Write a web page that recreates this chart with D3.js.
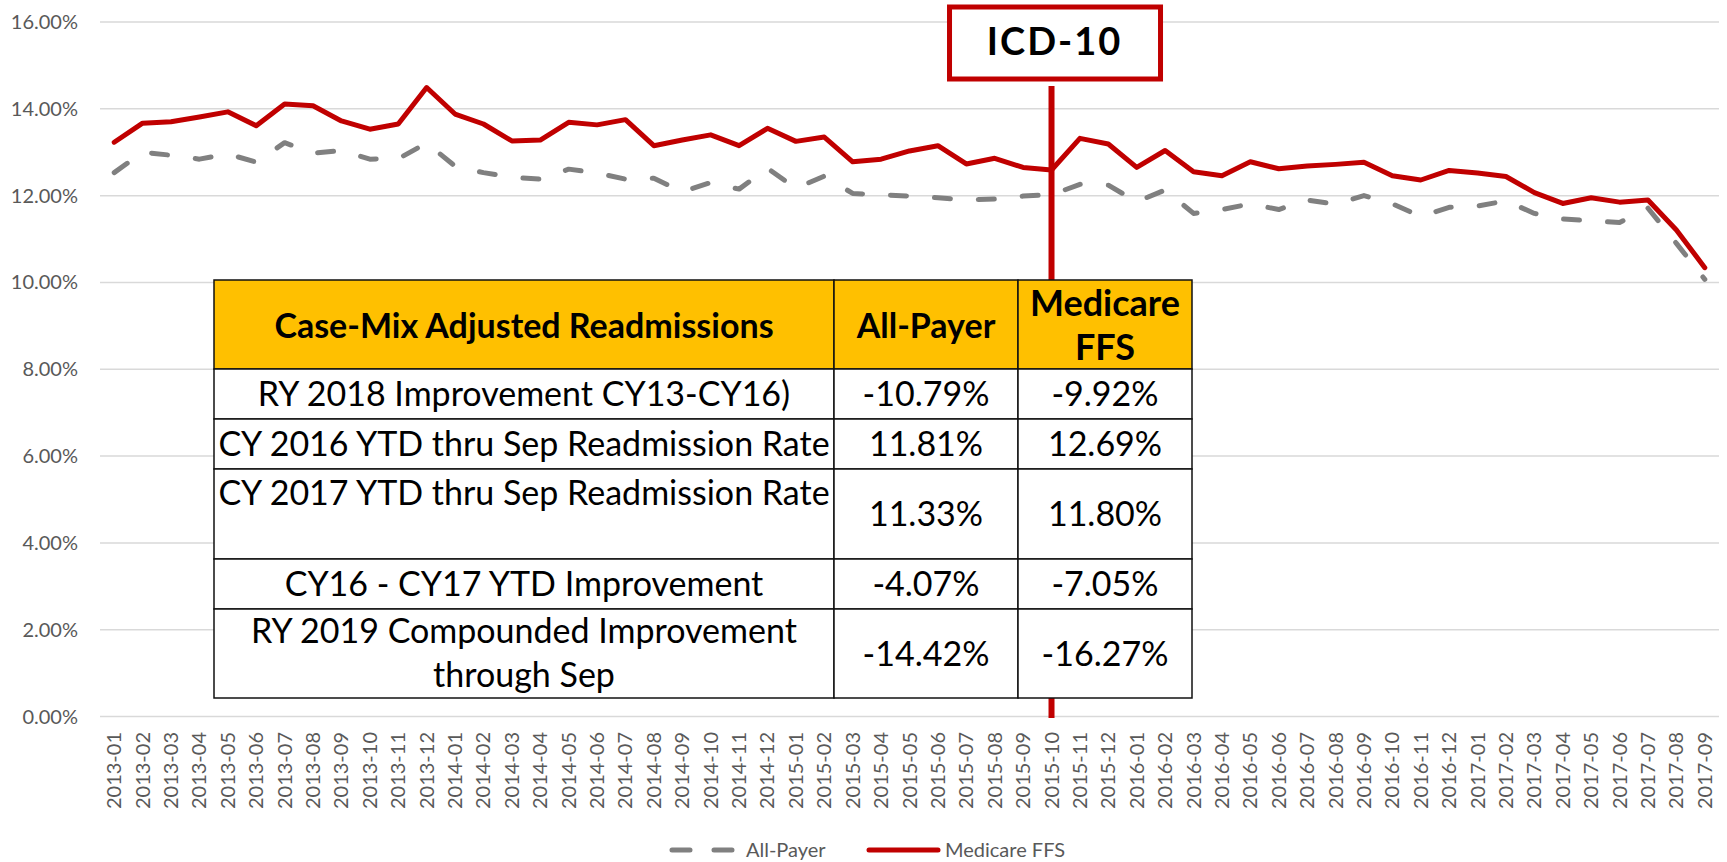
<!DOCTYPE html>
<html>
<head>
<meta charset="utf-8">
<script src="https://cdn.jsdelivr.net/npm/d3@7"></script>
<style>
  body { margin: 0; background: #fff; }
  svg { display: block; }
</style>
</head>
<body>
<div id="chart"></div>
<script>
// month categories on the x axis
const months = [
  "2013-01","2013-02","2013-03","2013-04","2013-05","2013-06","2013-07","2013-08","2013-09","2013-10","2013-11","2013-12",
  "2014-01","2014-02","2014-03","2014-04","2014-05","2014-06","2014-07","2014-08","2014-09","2014-10","2014-11","2014-12",
  "2015-01","2015-02","2015-03","2015-04","2015-05","2015-06","2015-07","2015-08","2015-09","2015-10","2015-11","2015-12",
  "2016-01","2016-02","2016-03","2016-04","2016-05","2016-06","2016-07","2016-08","2016-09","2016-10","2016-11","2016-12",
  "2017-01","2017-02","2017-03","2017-04","2017-05","2017-06","2017-07","2017-08","2017-09"
];

// readmission rates (%)
const allPayer = [
  12.53, 13.00, 12.93, 12.84, 12.96, 12.77, 13.22, 12.98, 13.04, 12.84, 12.85, 13.21,
  12.68, 12.53, 12.42, 12.38, 12.61, 12.52, 12.38, 12.40, 12.09, 12.30, 12.15, 12.63,
  12.17, 12.45, 12.05, 12.02, 11.99, 11.95, 11.90, 11.92, 11.99, 12.02, 12.26, 12.24,
  11.86, 12.13, 11.59, 11.68, 11.81, 11.68, 11.90, 11.80, 12.00, 11.81, 11.52, 11.73,
  11.76, 11.88, 11.59, 11.46, 11.42, 11.38, 11.71, 10.90, 10.07
];
const medicareFFS = [
  13.23, 13.67, 13.70, 13.81, 13.93, 13.61, 14.11, 14.07, 13.72, 13.53, 13.65, 14.49,
  13.88, 13.65, 13.26, 13.28, 13.69, 13.63, 13.75, 13.15, 13.28, 13.40, 13.15, 13.55,
  13.25, 13.35, 12.78, 12.84, 13.03, 13.15, 12.73, 12.86, 12.65, 12.59, 13.32, 13.19,
  12.65, 13.04, 12.55, 12.46, 12.78, 12.62, 12.68, 12.72, 12.77, 12.46, 12.36, 12.58,
  12.52, 12.44, 12.07, 11.82, 11.95, 11.85, 11.90, 11.21, 10.34
];

const yTicks = [0, 2, 4, 6, 8, 10, 12, 14, 16];

const markerMonth = "2015-10";
const markerLabel = "ICD-10";

// summary table
const tableHeader = ["Case-Mix Adjusted Readmissions", "All-Payer", "Medicare\nFFS"];
const rowLabels = [
  "RY 2018 Improvement CY13-CY16)",
  "CY 2016 YTD thru Sep Readmission Rate",
  "CY 2017 YTD thru Sep Readmission Rate",
  "CY16 - CY17 YTD Improvement",
  "RY 2019 Compounded Improvement\nthrough Sep"
];
const allPayerCol = ["-10.79%", "11.81%", "11.33%", "-4.07%", "-14.42%"];
const medicareCol = ["-9.92%", "12.69%", "11.80%", "-7.05%", "-16.27%"];

const width = 1727;
const height = 862;
const red = "#c00000";
const grey = "#808080";
const axisFont = "Lato, 'Open Sans', sans-serif";
const tableFont = "Lato, 'Liberation Sans', sans-serif";

const svg = d3.select("#chart").append("svg")
    .attr("width", width)
    .attr("height", height)
    .attr("viewBox", [0, 0, width, height]);

const x = d3.scaleBand().domain(months).range([100, 1719]);
const y = d3.scaleLinear().domain([0, 16]).range([716.5, 22]);
const cx = m => x(m) + x.bandwidth() / 2;

// gridlines
svg.append("g")
  .selectAll("line")
  .data(yTicks)
  .join("line")
    .attr("x1", 100)
    .attr("x2", 1719)
    .attr("y1", d => y(d))
    .attr("y2", d => y(d))
    .attr("stroke", "#d9d9d9")
    .attr("stroke-width", 1.5);

// y labels
svg.append("g")
  .selectAll("text")
  .data(yTicks)
  .join("text")
    .attr("x", 78)
    .attr("y", d => y(d))
    .attr("dy", "0.35em")
    .attr("text-anchor", "end")
    .attr("fill", "#595959")
    .style("font", `20px ${axisFont}`)
    .text(d => d.toFixed(2) + "%");

// x labels, rotated
svg.append("g")
  .selectAll("text")
  .data(months)
  .join("text")
    .attr("transform", d => `translate(${cx(d)},732) rotate(-90)`)
    .attr("dy", "0.35em")
    .attr("text-anchor", "end")
    .attr("fill", "#595959")
    .style("font", `20px ${axisFont}`)
    .text(d => d);

// lines
const line = d3.line()
    .x((d, i) => cx(months[i]))
    .y(d => y(d));

svg.append("path")
    .attr("fill", "none")
    .attr("stroke", grey)
    .attr("stroke-width", 5)
    .attr("stroke-dasharray", "16,28")
    .attr("stroke-linecap", "round")
    .attr("stroke-linejoin", "round")
    .attr("d", line(allPayer));

svg.append("path")
    .attr("fill", "none")
    .attr("stroke", red)
    .attr("stroke-width", 5)
    .attr("stroke-linecap", "round")
    .attr("stroke-linejoin", "round")
    .attr("d", line(medicareFFS));

// ICD-10 marker
const mx = cx(markerMonth);
svg.append("line")
    .attr("x1", mx).attr("x2", mx)
    .attr("y1", 86).attr("y2", 718)
    .attr("stroke", red)
    .attr("stroke-width", 6);

svg.append("rect")
    .attr("x", mx - 102)
    .attr("y", 7)
    .attr("width", 211)
    .attr("height", 72)
    .attr("fill", "#fff")
    .attr("stroke", red)
    .attr("stroke-width", 5);

svg.append("text")
    .attr("x", mx + 3)
    .attr("y", 55)
    .attr("text-anchor", "middle")
    .attr("fill", "#000")
    .style("font", `bold 38px ${axisFont}`)
    .style("letter-spacing", "2px")
    .text(markerLabel);

// table
const colX = [214, 834, 1018, 1192];
const rowY = [280, 369, 419, 469, 559, 609, 698];
const table = svg.append("g");

const cells = [];
tableHeader.forEach((t, c) => cells.push({ r: 0, c, text: t, head: true }));
rowLabels.forEach((t, i) => {
  cells.push({ r: i + 1, c: 0, text: t });
  cells.push({ r: i + 1, c: 1, text: allPayerCol[i] });
  cells.push({ r: i + 1, c: 2, text: medicareCol[i] });
});

table.selectAll("rect")
  .data(cells)
  .join("rect")
    .attr("x", d => colX[d.c])
    .attr("y", d => rowY[d.r])
    .attr("width", d => colX[d.c + 1] - colX[d.c])
    .attr("height", d => rowY[d.r + 1] - rowY[d.r])
    .attr("fill", d => d.head ? "#ffc000" : "#fff")
    .attr("stroke", "#111")
    .attr("stroke-width", 1.5);

// baselines per cell: label column rows 3 and 5 sit near the top
const baseline = d => {
  if (d.head) return d.c === 2 ? 316 : 338;
  if (d.r === 3 && d.c === 0) return 505;
  if (d.r === 5 && d.c === 0) return 643;
  return (rowY[d.r] + rowY[d.r + 1]) / 2 + 12;
};

table.selectAll("text")
  .data(cells)
  .join("text")
    .attr("x", d => (colX[d.c] + colX[d.c + 1]) / 2)
    .attr("y", baseline)
    .attr("text-anchor", "middle")
    .attr("fill", "#000")
    .style("font", d => d.head ? `bold ${d.c === 2 ? 36 : 34}px ${tableFont}` : `34px ${tableFont}`)
    .each(function (d) {
      const lines = d.text.split("\n");
      const el = d3.select(this);
      lines.forEach((l, i) => {
        el.append("tspan")
          .attr("x", (colX[d.c] + colX[d.c + 1]) / 2)
          .attr("dy", i === 0 ? 0 : 44)
          .text(l);
      });
    });

// legend
const legend = svg.append("g").attr("transform", "translate(0,850)");
legend.append("line")
    .attr("x1", 672).attr("x2", 733)
    .attr("stroke", grey)
    .attr("stroke-width", 5)
    .attr("stroke-linecap", "round")
    .attr("stroke-dasharray", "18,24");
legend.append("text")
    .attr("x", 746).attr("dy", "0.35em")
    .attr("fill", "#595959")
    .style("font", `20px ${axisFont}`)
    .text("All-Payer");
legend.append("line")
    .attr("x1", 869).attr("x2", 938)
    .attr("stroke", red)
    .attr("stroke-width", 5)
    .attr("stroke-linecap", "round");
legend.append("text")
    .attr("x", 945).attr("dy", "0.35em")
    .attr("fill", "#595959")
    .style("font", `20px ${axisFont}`)
    .text("Medicare FFS");
</script>
</body>
</html>
